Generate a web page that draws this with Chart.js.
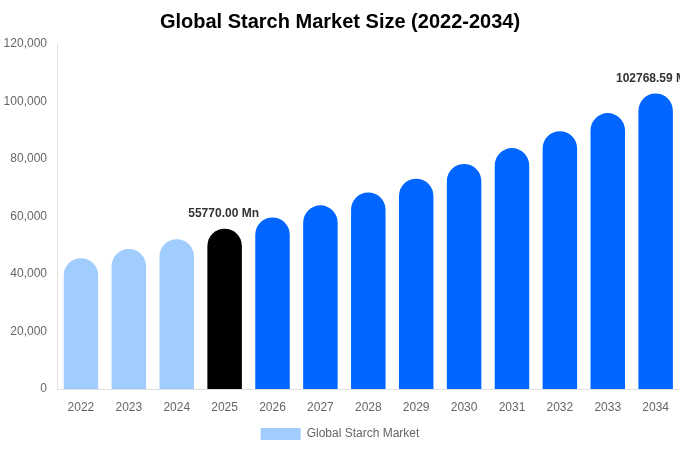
<!DOCTYPE html>
<html>
<head>
<meta charset="utf-8">
<script src="https://cdn.jsdelivr.net/npm/chart.js@4/dist/chart.umd.min.js"></script>
<style>
html,body{margin:0;padding:0;background:#fff;}
#wrap{width:680px;height:450px;}
</style>
</head>
<body>
<div id="wrap"><canvas id="c"></canvas></div>
<script>
const years = ["2022","2023","2024","2025","2026","2027","2028","2029","2030","2031","2032","2033","2034"];
const marketValues = [45499, 48693, 52111, 55770, 59685, 63875, 68359, 73158, 78294, 83790, 89672, 95967, 102768.59];
const labelledIndexes = [3, 12];
const seriesName = "Global Starch Market";
const titleText = "Global Starch Market Size (2022-2034)";

const FONT = "'Liberation Sans', Arial, Helvetica, sans-serif";
const barColors = years.map((y, i) => i < 3 ? "#a0cdfd" : (i === 3 ? "#000000" : "#0066ff"));

const valueLabels = {
  id: "valueLabels",
  afterDatasetsDraw(chart) {
    const ctx = chart.ctx;
    const meta = chart.getDatasetMeta(0);
    ctx.save();
    ctx.font = "bold 12px " + FONT;
    ctx.fillStyle = "#333333";
    ctx.textAlign = "center";
    ctx.textBaseline = "middle";
    labelledIndexes.forEach(i => {
      const bar = meta.data[i];
      ctx.fillText(marketValues[i].toFixed(2) + " Mn", bar.x - 1, bar.y - 15);
    });
    ctx.restore();
  }
};

new Chart(document.getElementById("c"), {
  type: "bar",
  data: {
    labels: years,
    datasets: [{
      label: seriesName,
      data: marketValues,
      backgroundColor: barColors,
      borderRadius: 100,
      borderSkipped: "bottom",
      categoryPercentage: 1.0,
      barPercentage: 0.72
    }]
  },
  options: {
    responsive: true,
    maintainAspectRatio: false,
    animation: false,
    layout: { padding: { left: 0, right: 0, top: 0, bottom: 0 } },
    plugins: {
      title: {
        display: true,
        text: titleText,
        color: "#000000",
        font: { size: 20, weight: "bold", family: FONT },
        padding: { top: 10, bottom: 10 }
      },
      legend: {
        position: "bottom",
        labels: {
          color: "#666666",
          boxWidth: 40,
          boxHeight: 12,
          padding: 4,
          font: { size: 12, family: FONT },
          generateLabels() {
            return [{ text: seriesName, fillStyle: "#a0cdfd", strokeStyle: "#a0cdfd", lineWidth: 0, fontColor: "#666666" }];
          }
        }
      },
      tooltip: { enabled: false }
    },
    scales: {
      x: {
        afterFit(scale) { scale.height = 35; },
        grid: { display: false, drawTicks: false },
        border: { display: true, color: "#e0e0e0" },
        ticks: { color: "#666666", padding: 11, font: { size: 12, family: FONT } }
      },
      y: {
        min: 0,
        max: 120000,
        afterFit(scale) { scale.width = 57; },
        grid: { display: false, drawTicks: false },
        border: { display: true, color: "#e0e0e0" },
        ticks: {
          stepSize: 20000,
          color: "#666666",
          padding: 10,
          font: { size: 12, family: FONT },
          callback: v => v.toLocaleString("en-US")
        }
      }
    }
  },
  plugins: [valueLabels]
});
</script>
</body>
</html>
